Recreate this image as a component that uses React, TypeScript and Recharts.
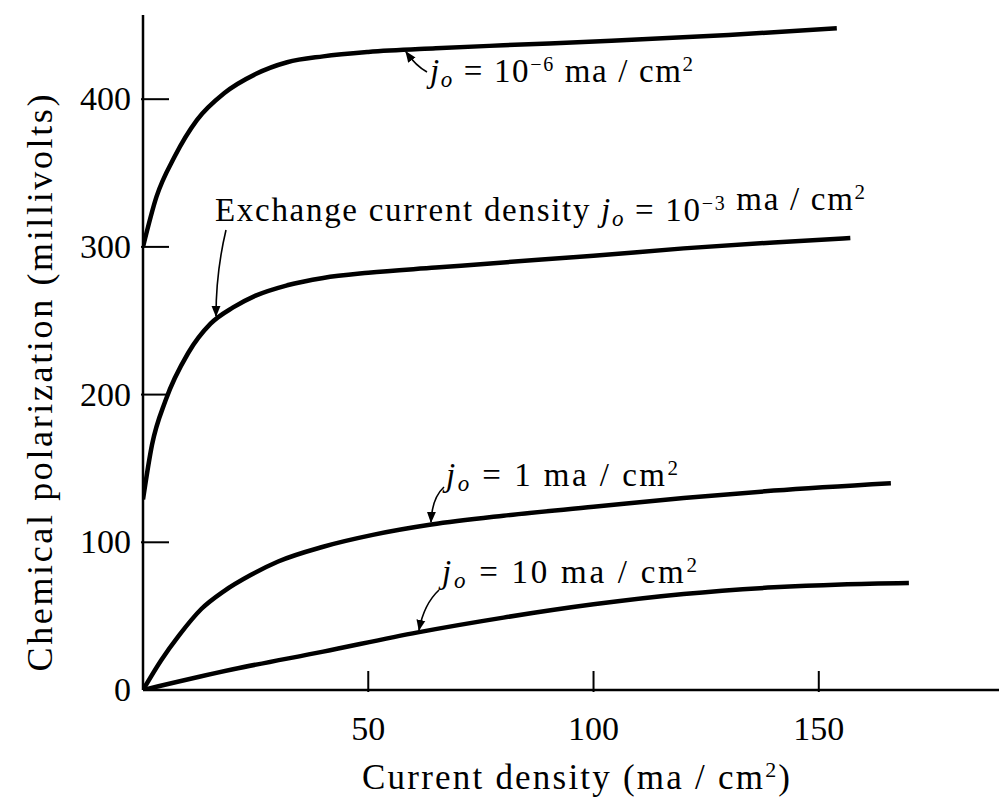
import { LineChart, Line, XAxis, YAxis } from "recharts"

// current density (ma/cm2) vs chemical polarization (mV), one pair of arrays per exchange current density
const curveMicroX = [0, 3, 7, 12, 18, 25, 32, 40, 50, 65, 80, 104, 130, 154]
const curveMicroY = [300, 334, 361, 386, 404, 417, 425, 429, 432, 434.5, 436.5, 439.5, 443.5, 448]

const curveMilliX = [0, 2, 5, 10, 15, 20, 25, 32, 40, 50, 65, 80, 100, 120, 140, 157]
const curveMilliY = [129, 166, 196, 228, 248, 259, 267, 274, 279, 282.5, 286, 289.5, 294, 299, 303, 306]

const curveOneX = [0, 4, 8, 13, 18, 24, 30, 40, 51, 64, 80, 100, 120, 140, 166]
const curveOneY = [0, 20, 37, 55, 67, 78, 87, 97, 105, 112, 118, 124, 130, 135, 140]

const curveTenX = [0, 20, 40, 61, 80, 100, 120, 140, 155, 170]
const curveTenY = [0, 14, 26, 39, 49, 58, 65, 69.5, 71.5, 72.5]

const xTicks = [50, 100, 150]
const yTicks = [0, 100, 200, 300, 400]

const toPoints = (xs: number[], ys: number[]) => xs.map((x, i) => ({ x, y: ys[i] }))

const FONT = "'Liberation Serif', 'DejaVu Serif', serif"

function YTick({ x, y, payload }: any) {
  return (
    <g>
      {payload.value !== 0 && (
        <line x1={x + 10} x2={x + 38} y1={y} y2={y} stroke="#000" strokeWidth={2} />
      )}
      <text x={x} y={y} dy={11} textAnchor="end" fontFamily={FONT} fontSize={34} fill="#000">
        {payload.value}
      </text>
    </g>
  )
}

function XTick({ x, y, payload }: any) {
  return (
    <g>
      <line x1={x} x2={x} y1={y} y2={y - 21} stroke="#000" strokeWidth={2} />
      <text x={x} y={y + 48} textAnchor="middle" fontFamily={FONT} fontSize={34} fill="#000">
        {payload.value}
      </text>
    </g>
  )
}

// j with subscript o
function Jo() {
  return (
    <>
      <tspan fontStyle="italic">j</tspan>
      <tspan fontStyle="italic" fontSize={23} dy={5}>o</tspan>
      <tspan dy={-5}> = </tspan>
    </>
  )
}

function Unit() {
  return (
    <>
      <tspan> ma / cm</tspan>
      <tspan fontSize={21} dy={-11}>2</tspan>
    </>
  )
}

function Annotations() {
  return (
    <svg
      width={999}
      height={811}
      style={{ position: "absolute", left: 0, top: 0, pointerEvents: "none" }}
      fontFamily={FONT}
      fontSize={33}
    >
      <defs>
        <marker id="head" viewBox="0 0 10 10" refX="9" refY="5" markerWidth="7" markerHeight="7" orient="auto">
          <path d="M0,1 L10,5 L0,9 z" fill="#000" />
        </marker>
      </defs>

      <text x={430} y={82} textLength={263} lengthAdjust="spacing">
        <Jo />
        <tspan>10</tspan>
        <tspan fontSize={20} dy={-11}>−6</tspan>
        <tspan dy={11}> </tspan>
        <Unit />
      </text>
      <path d="M427,72 Q416,66 406,52" fill="none" stroke="#000" strokeWidth={1.6} markerEnd="url(#head)" />

      <text x={215} y={221} textLength={650} lengthAdjust="spacing">
        <tspan>Exchange current density </tspan>
        <Jo />
        <tspan>10</tspan>
        <tspan fontSize={20} dy={-11}>−3</tspan>
        <tspan dy={11}></tspan>
        <Unit />
      </text>
      <path d="M226,230 Q216,272 216,316" fill="none" stroke="#000" strokeWidth={1.6} markerEnd="url(#head)" />

      <text x={446} y={486} textLength={232} lengthAdjust="spacing">
        <Jo />
        <tspan>1</tspan>
        <Unit />
      </text>
      <path d="M444,487 Q432,498 431,522" fill="none" stroke="#000" strokeWidth={1.6} markerEnd="url(#head)" />

      <text x={442} y={583} textLength={255} lengthAdjust="spacing">
        <Jo />
        <tspan>10</tspan>
        <Unit />
      </text>
      <path d="M439,590 Q424,604 419,630" fill="none" stroke="#000" strokeWidth={1.6} markerEnd="url(#head)" />

      <text
        x={40}
        y={383}
        transform="rotate(-90 40 383)"
        textAnchor="middle"
        dominantBaseline="central"
        fontSize={36}
        textLength={577}
        lengthAdjust="spacing"
      >
        Chemical polarization (millivolts)
      </text>

      <text x={362} y={789} fontSize={35} textLength={428} lengthAdjust="spacing">
        <tspan>Current density (ma / cm</tspan>
        <tspan fontSize={22} dy={-12}>2</tspan>
        <tspan dy={12}>)</tspan>
      </text>
    </svg>
  )
}

export default function App() {
  const series = [
    toPoints(curveMicroX, curveMicroY),
    toPoints(curveMilliX, curveMilliY),
    toPoints(curveOneX, curveOneY),
    toPoints(curveTenX, curveTenY),
  ]

  return (
    <div style={{ position: "absolute", left: 0, top: 0, width: 999, height: 811, background: "#fff" }}>
      <LineChart width={999} height={811} margin={{ top: 15, right: 0, left: 0, bottom: 0 }}>
        <XAxis
          type="number"
          dataKey="x"
          domain={[0, 190]}
          ticks={xTicks}
          allowDataOverflow
          height={121}
          tickSize={0}
          tickLine={false}
          tick={<XTick />}
          axisLine={{ stroke: "#000", strokeWidth: 2.5 }}
        />
        <YAxis
          type="number"
          dataKey="y"
          domain={[0, 457]}
          ticks={yTicks}
          allowDataOverflow
          width={143}
          tickSize={0}
          tickMargin={12}
          tickLine={false}
          tick={<YTick />}
          axisLine={{ stroke: "#000", strokeWidth: 2.5 }}
        />
        {series.map((data, i) => (
          <Line
            key={i}
            data={data}
            dataKey="y"
            type="monotone"
            stroke="#000"
            strokeWidth={4.5}
            dot={false}
            isAnimationActive={false}
          />
        ))}
      </LineChart>
      <Annotations />
    </div>
  )
}
